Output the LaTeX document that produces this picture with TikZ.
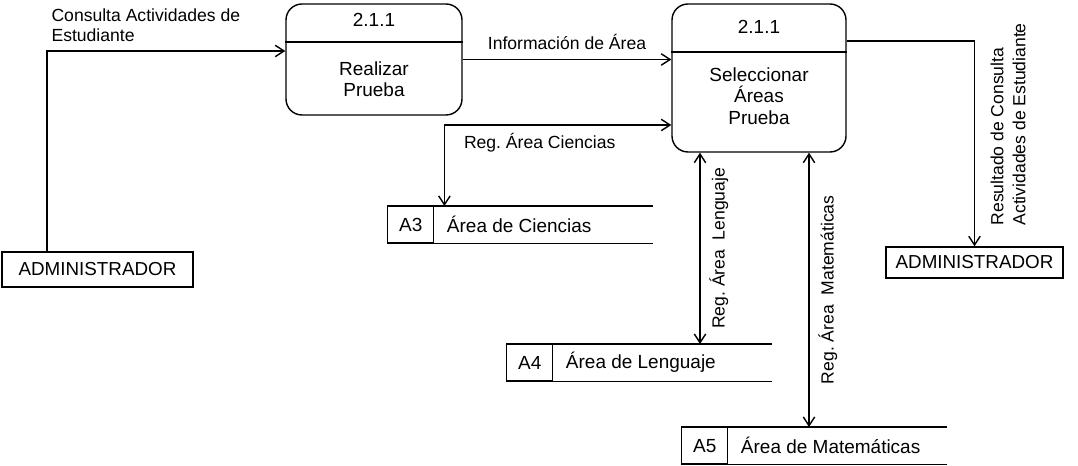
\documentclass[tikz,border=0pt]{standalone}
\usepackage{fontspec}
\setmainfont{Liberation Sans}
\usepackage{tikz}
\usetikzlibrary{arrows.meta, positioning, calc}
\frenchspacing

\begin{document}
\begin{tikzpicture}[x=0.2mm, y=-0.2mm, line width=0.8pt,
    proc/.style={draw, rounded corners=0.32cm, inner sep=0pt},
    ent/.style={draw, inner sep=0pt, font=\fontsize{10.7}{12}\selectfont},
    sid/.style={draw, inner sep=0pt, minimum width=0.92cm, minimum height=0.72cm, font=\fontsize{10.8}{12.2}\selectfont},
    txt/.style={font=\fontsize{10.8}{12.2}\selectfont, align=center},
    lbl/.style={font=\fontsize{10}{11.5}\selectfont},
    flow/.style={-{Straight Barb[length=5pt, width=6.5pt]}},
    flows/.style={{Straight Barb[length=5pt, width=6.5pt]}-{Straight Barb[length=5pt, width=6.5pt]}}]

    % Bounding box
    \useasboundingbox (0,0) rectangle (1078,466);

    % Processes
    \node[proc, minimum width=3.52cm, minimum height=2.22cm] (p1) at (374,59.5) {};
    \node[txt] (p1id) at (374,20) {2.1.1};
    \node[txt] (p1txt) at (374,79) {Realizar\\Prueba};
    \draw (p1.west |- 0,42) -- (p1.east |- 0,42);

    \node[proc, minimum width=3.48cm, minimum height=2.96cm] (p2) at (759,78) {};
    \node[txt] (p2id) at (759,27) {2.1.1};
    \node[txt] (p2txt) at (759,96) {Seleccionar\\Áreas\\Prueba};
    \draw (p2.west |- 0,52) -- (p2.east |- 0,52);

    % Entities
    \node[ent, minimum width=3.82cm, minimum height=0.7cm] (a1) at (97.5,269.5) {ADMINISTRADOR};
    \node[ent, minimum width=3.54cm, minimum height=0.62cm] (a2) at (974.5,262.5) {ADMINISTRADOR};

    % Data stores
    \foreach \n/\x/\y/\id/\txt in {s3/387/206/A3/Área de Ciencias, s4/506/344/A4/Área de Lenguaje, s5/681/427/A5/Área de Matemáticas} {
        \node[sid, anchor=north west] (\n) at (\x,\y) {\id};
        \node[txt, right=0.12cm of \n] (\n txt) {\txt};
        \draw (\n.north west) -- ++(266,0);
        \draw (\n.south west) -- ++(266,0);
    }

    % Flows
    \draw[flow] ([xshift=-1.01cm]a1.north) |- ([yshift=0.17cm]p1.west);
    \node[lbl, anchor=north west, align=left] (l1) at (45,2) {Consulta Actividades de\\Estudiante};

    \draw[flow] (p1.east) -- (p1.east -| p2.west) node[lbl, midway, above=2pt] {Información de Área};

    \draw[flows] ([yshift=-0.94cm]p2.west) -| ([xshift=0.2cm]s3.north east)
        node[lbl, pos=0.29, below=1pt] {Reg. Área Ciencias};

    \draw[flows] ([xshift=-1.18cm]p2.south) -- ([xshift=-1.18cm]p2.south |- s4.north)
        node[lbl, midway, rotate=90, anchor=north, inner sep=5pt] {Reg. Área\ \ Lenguaje};

    \draw[flows] ([xshift=1cm]p2.south) -- ([xshift=1cm]p2.south |- s5.north)
        node[lbl, midway, rotate=90, anchor=north, inner sep=5pt] {Reg. Área\ \ Matemáticas};

    \draw[flow] ([yshift=0.74cm]p2.east) -| (a2.north);
    \node[lbl, rotate=90, anchor=north west, align=left, font=\fontsize{10}{12.5}\selectfont] (l6) at (984,232) {Resultado de Consulta\\Actividades de Estudiante};

\end{tikzpicture}
\end{document}
